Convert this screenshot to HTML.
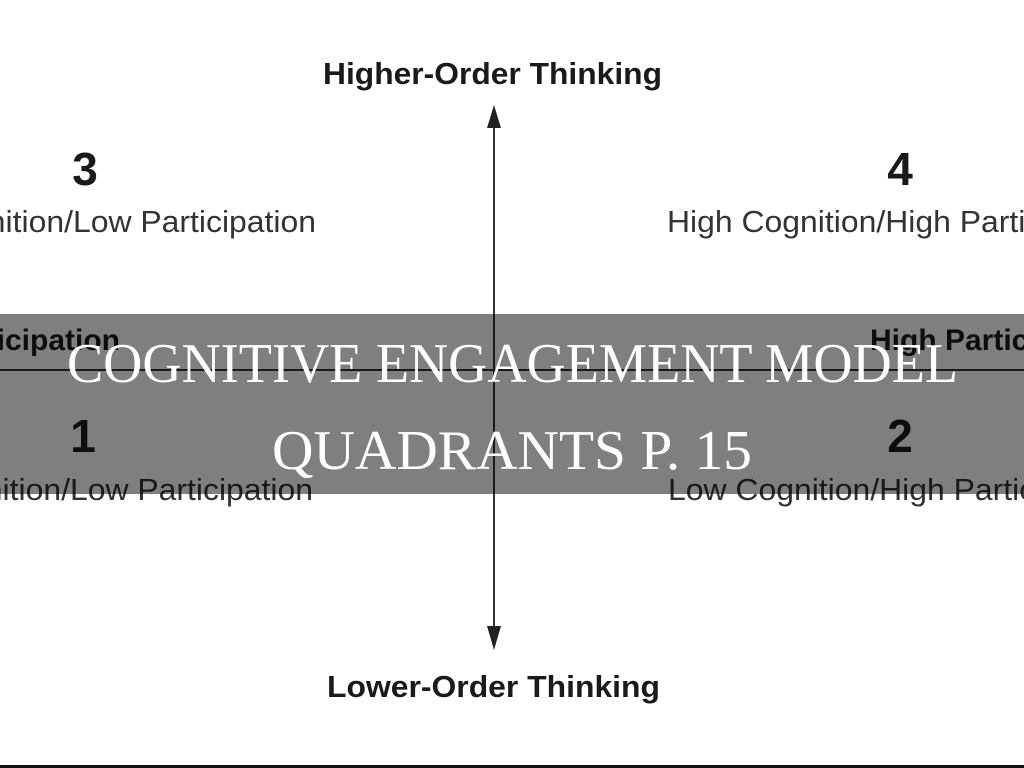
<!DOCTYPE html>
<html><head><meta charset="utf-8"><style>html,body{margin:0;padding:0;background:#fff;overflow:hidden}svg{display:block}</style></head>
<body>
<svg width="1024" height="768" viewBox="0 0 1024 768" xmlns="http://www.w3.org/2000/svg">
<rect width="1024" height="768" fill="#fff"/>
<g font-family="'Liberation Sans',sans-serif" fill="#1a1a1a">
<text x="323" y="84" font-size="31" font-weight="bold" textLength="339" lengthAdjust="spacingAndGlyphs">Higher-Order Thinking</text>
<text x="85" y="185" font-size="46" font-weight="bold" text-anchor="middle">3</text>
<text x="900" y="185" font-size="46" font-weight="bold" text-anchor="middle">4</text>
<g transform="translate(316,232) scale(1.03,1)"><text x="0" y="0" font-size="31" text-anchor="end" fill="#333">Low Cognition/Low Participation</text></g>
<g transform="translate(667,232) scale(1.03,1)"><text x="0" y="0" font-size="31" fill="#333">High Cognition/High Participation</text></g>
<g transform="translate(120,350) scale(1.0,1)"><text x="0" y="0" font-size="30" font-weight="bold" text-anchor="end">Low Participation</text></g>
<g transform="translate(870,350) scale(1.0,1)"><text x="0" y="0" font-size="30" font-weight="bold">High Participation</text></g>
<text x="83" y="452" font-size="46" font-weight="bold" text-anchor="middle">1</text>
<text x="900" y="452" font-size="46" font-weight="bold" text-anchor="middle">2</text>
<g transform="translate(313,500) scale(1.03,1)"><text x="0" y="0" font-size="31" text-anchor="end" fill="#333">Low Cognition/Low Participation</text></g>
<g transform="translate(668,500) scale(1.03,1)"><text x="0" y="0" font-size="31" fill="#333">Low Cognition/High Participation</text></g>
<text x="327" y="697" font-size="31" font-weight="bold" textLength="333" lengthAdjust="spacingAndGlyphs">Lower-Order Thinking</text>
</g>
<line x1="0" y1="370" x2="1024" y2="370" stroke="#333" stroke-width="2"/>
<line x1="494" y1="115" x2="494" y2="640" stroke="#333" stroke-width="2"/>
<polygon points="494,105 487,128 501,128" fill="#222"/>
<polygon points="494,650 487,626 501,626" fill="#222"/>
<rect x="0" y="314" width="1024" height="180" fill="rgba(0,0,0,0.5)"/>
<g font-family="'Liberation Serif',serif" fill="#fff">
<text x="67" y="382" font-size="56" textLength="891" lengthAdjust="spacingAndGlyphs">COGNITIVE ENGAGEMENT MODEL</text>
<text x="272" y="469" font-size="56" textLength="480" lengthAdjust="spacingAndGlyphs">QUADRANTS P. 15</text>
</g>
<rect x="0" y="765" width="1024" height="3" fill="#111"/>
</svg>
</body></html>
